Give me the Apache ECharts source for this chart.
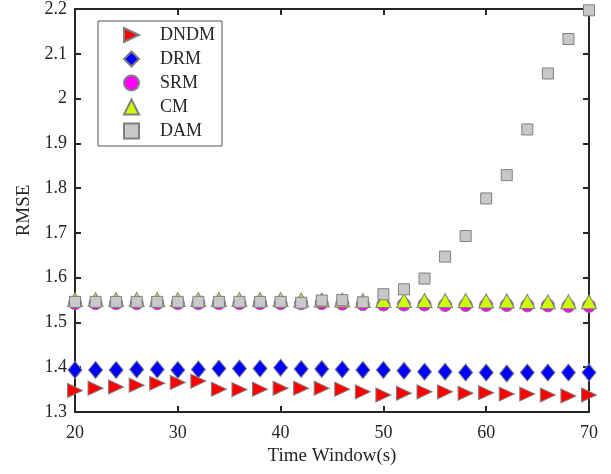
<!DOCTYPE html>
<html>
<head>
<meta charset="utf-8">
<script src="https://cdn.jsdelivr.net/npm/echarts@6/dist/echarts.min.js"></script>
<style>html,body{margin:0;padding:0;background:#fff}#c{width:611px;height:474px}</style>
</head>
<body>
<div id="c"></div>
<script>
const timeWindow = [20,22,24,26,28,30,32,34,36,38,40,42,44,46,48,50,52,54,56,58,60,62,64,66,68,70];
const dndm = [1.348,1.353,1.356,1.360,1.364,1.366,1.369,1.351,1.350,1.351,1.353,1.353,1.353,1.351,1.345,1.338,1.342,1.345,1.345,1.342,1.343,1.340,1.340,1.338,1.336,1.338];
const drm = [1.394,1.394,1.394,1.395,1.395,1.394,1.395,1.397,1.397,1.397,1.399,1.396,1.396,1.395,1.394,1.394,1.392,1.390,1.390,1.388,1.388,1.386,1.388,1.388,1.388,1.388];
const srm = [1.543,1.543,1.543,1.543,1.543,1.543,1.543,1.543,1.543,1.543,1.543,1.543,1.543,1.542,1.541,1.540,1.540,1.540,1.539,1.539,1.539,1.539,1.538,1.538,1.537,1.537];
const cm = [1.551,1.551,1.551,1.551,1.551,1.551,1.551,1.551,1.551,1.551,1.551,1.550,1.550,1.550,1.549,1.549,1.549,1.549,1.549,1.549,1.548,1.548,1.547,1.546,1.546,1.546];
const dam = [1.546,1.546,1.546,1.546,1.546,1.546,1.546,1.546,1.546,1.546,1.546,1.544,1.549,1.550,1.545,1.563,1.574,1.598,1.647,1.693,1.777,1.829,1.931,2.056,2.133,2.197];
const xTicks = [20,30,40,50,60,70];
const yTicks = ['1.3','1.4','1.5','1.6','1.7','1.8','1.9','2','2.1','2.2'];

const font = 'Liberation Serif';
const txt = '#262626';
function pts(arr){ return timeWindow.map((x,i)=>[x, arr[i]]); }
function style(c){ return {color:c, borderColor:'#7f7f7f', borderWidth:1, opacity:1}; }

const chart = echarts.init(document.getElementById('c'));
const axisCommon = {
  axisLine:{show:true, onZero:false, lineStyle:{color:txt, width:2}},
  axisTick:{show:true, inside:true, length:6, lineStyle:{color:txt, width:2}},
  splitLine:{show:false}
};
chart.setOption({
  animation:false,
  backgroundColor:'#fff',
  grid:{left:75, right:22, top:9, bottom:62},
  xAxis:[
    Object.assign({type:'value', min:20, max:70, interval:10, position:'bottom',
      name:'Time Window(s)', nameLocation:'middle', nameGap:35,
      nameTextStyle:{fontFamily:font, fontSize:19, color:txt},
      axisLabel:{fontFamily:font, fontSize:18, color:txt, margin:12,
        formatter:(v)=> xTicks.includes(v) ? String(v) : ''}}, axisCommon),
    Object.assign({type:'value', min:20, max:70, interval:10, position:'top',
      axisLabel:{show:false}}, axisCommon)
  ],
  yAxis:[
    Object.assign({type:'value', min:1.3, max:2.2, interval:0.1, position:'left',
      name:'RMSE', nameLocation:'middle', nameGap:40,
      nameTextStyle:{fontFamily:font, fontSize:19, color:txt},
      axisLabel:{fontFamily:font, fontSize:18, color:txt, margin:8,
        formatter:(v)=>{ const s = (Math.round(v*10)/10).toString(); return yTicks.includes(s)?s:''; }}}, axisCommon),
    Object.assign({type:'value', min:1.3, max:2.2, interval:0.1, position:'right',
      axisLabel:{show:false}}, axisCommon)
  ],
  legend:{
    orient:'vertical', left:98, top:21,
    padding:[5,7,6,25], itemWidth:15, itemHeight:15, itemGap:6,
    borderColor:'#555', borderWidth:1, backgroundColor:'#fff',
    textStyle:{fontFamily:font, fontSize:18, color:txt, padding:[0,0,0,16]},
    data:['DNDM','DRM','SRM','CM','DAM']
  },
  series:[
    {name:'DNDM', type:'scatter', clip:false, data:pts(dndm), symbol:'path://M0,0 L15,7 L0,14 Z', symbolSize:[15,14],
      itemStyle:style('#ff0000')},
    {name:'DRM', type:'scatter', clip:false, data:pts(drm), symbol:'diamond', symbolSize:[14,17],
      itemStyle:style('#0000ff')},
    {name:'SRM', type:'scatter', clip:false, data:pts(srm), symbol:'circle', symbolSize:13,
      itemStyle:style('#ff00ff')},
    {name:'CM', type:'scatter', clip:false, data:pts(cm), symbol:'triangle', symbolSize:[15,14],
      itemStyle:style('#ccff00')},
    {name:'DAM', type:'scatter', clip:false, data:pts(dam), symbol:'rect', symbolSize:11,
      itemStyle:style('#c8c8c8')}
  ]
});
</script>
</body>
</html>
